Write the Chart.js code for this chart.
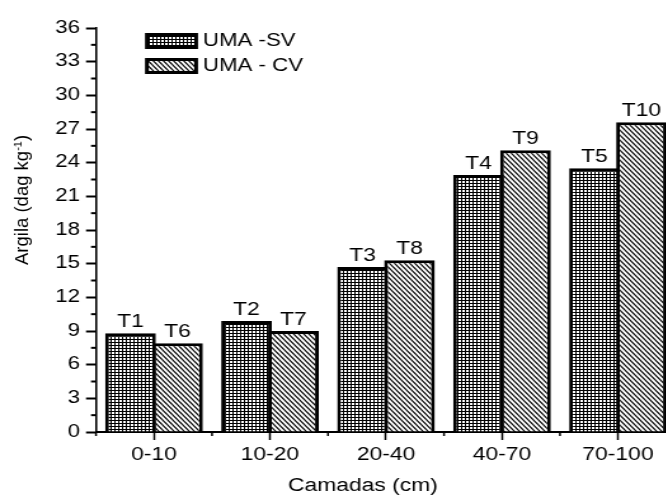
<!DOCTYPE html>
<html>
<head>
<meta charset="utf-8">
<script src="https://cdn.jsdelivr.net/npm/chart.js@4/dist/chart.umd.min.js"></script>
<style>
  html, body { margin: 0; padding: 0; background: #fff; overflow: hidden; }
  #wrap { width: 666px; height: 495px; overflow: hidden; }
  #argila { display: block; transform-origin: 0 0; }
</style>
</head>
<body>
<div id="wrap"><canvas id="argila"></canvas></div>
<script>
const camadas = ['0-10', '10-20', '20-40', '40-70', '70-100']
const semVegetacao = [8.8, 9.9, 14.7, 22.9, 23.5]
const comVegetacao = [7.9, 9.0, 15.3, 25.1, 27.6]
const tratamentosSV = ['T1', 'T2', 'T3', 'T4', 'T5']
const tratamentosCV = ['T6', 'T7', 'T8', 'T9', 'T10']
const seriesNomes = ['UMA -SV', 'UMA - CV']
const eixoY = { min: 0, max: 36, passo: 3, menor: 1.5 }
const tituloY = ['Argila (dag kg', '-1', ')']
const tituloX = 'Camadas (cm)'

// the figure is drawn narrow and stretched sideways (wide lettering)
const S = 1.27
const W = Math.ceil(680 / S), H = 495
const FONT = '"Liberation Sans", Arial, sans-serif'

const canvas = document.getElementById('argila')
canvas.width = W
canvas.height = H
canvas.style.transform = `scaleX(${S})`

function gridPattern() {
  const c = document.createElement('canvas')
  c.width = 3
  c.height = 3
  const g = c.getContext('2d')
  g.fillStyle = '#fff'
  g.fillRect(0, 0, 3, 3)
  g.fillStyle = '#000'
  g.fillRect(0, 0, 3, 1)
  g.fillRect(0, 0, 1, 3)
  return g.createPattern(c, 'repeat')
}

function hatchPattern() {
  const w = 4, h = 5
  const c = document.createElement('canvas')
  c.width = w
  c.height = h
  const g = c.getContext('2d')
  g.fillStyle = '#fff'
  g.fillRect(0, 0, w, h)
  g.strokeStyle = '#000'
  g.lineWidth = 1.1
  for (let k = -1; k <= 1; k++) {
    g.beginPath()
    g.moveTo(k * w - w, -h)
    g.lineTo(k * w + 2 * w, 2 * h)
    g.stroke()
  }
  return g.createPattern(c, 'repeat')
}

const fillSV = gridPattern()
const fillCV = hatchPattern()

const extras = {
  id: 'extras',
  afterDatasetsDraw(chart) {
    const { ctx, chartArea, scales: { x, y } } = chart
    ctx.save()
    ctx.fillStyle = '#000'
    ctx.strokeStyle = '#000'

    // treatment tags above bars
    const tags = [tratamentosSV, tratamentosCV]
    ctx.font = `18px ${FONT}`
    ctx.textAlign = 'center'
    ctx.textBaseline = 'alphabetic'
    tags.forEach((list, i) => {
      chart.getDatasetMeta(i).data.forEach((bar, j) => {
        ctx.fillText(list[j], bar.x, bar.y - 6)
      })
    })

    // minor ticks
    ctx.lineWidth = 2
    for (let v = eixoY.menor; v < eixoY.max; v += eixoY.passo) {
      const py = y.getPixelForValue(v)
      ctx.beginPath()
      ctx.moveTo(chartArea.left - 5 / S, py)
      ctx.lineTo(chartArea.left, py)
      ctx.stroke()
    }
    ctx.lineWidth = 1.5
    for (let i = 0; i <= camadas.length; i++) {
      const px = x.getPixelForValue(i - 0.5)
      ctx.beginPath()
      ctx.moveTo(px, chartArea.bottom)
      ctx.lineTo(px, chartArea.bottom + 4)
      ctx.stroke()
    }

    // legend
    const boxes = [[145, 33], [145, 58]]
    const fills = [fillSV, fillCV]
    ctx.font = `17.5px ${FONT}`
    ctx.textAlign = 'left'
    ctx.textBaseline = 'middle'
    boxes.forEach(([bx, by], i) => {
      const lx = bx / S, bw = 53 / S, bh = 16
      ctx.fillStyle = '#000'
      ctx.fillRect(lx, by, bw, bh)
      ctx.fillStyle = fills[i]
      ctx.fillRect(lx + 3, by + 3, bw - 6, bh - 6)
      ctx.fillStyle = '#000'
      ctx.fillText(seriesNomes[i], 203 / S, by + 8.5)
    })

    // y title, upright proportions
    ctx.save()
    ctx.translate(28.5 / S, 265)
    ctx.scale(1 / S, 1)
    ctx.rotate(-Math.PI / 2)
    ctx.textAlign = 'left'
    ctx.textBaseline = 'alphabetic'
    ctx.font = `18.5px ${FONT}`
    let t = 0
    ctx.fillText(tituloY[0], t, 0)
    t += ctx.measureText(tituloY[0]).width
    ctx.font = `11px ${FONT}`
    ctx.fillText(tituloY[1], t, -7)
    t += ctx.measureText(tituloY[1]).width
    ctx.font = `18.5px ${FONT}`
    ctx.fillText(tituloY[2], t, 0)
    ctx.restore()

    ctx.font = `18px ${FONT}`
    ctx.textAlign = 'center'
    ctx.textBaseline = 'alphabetic'
    ctx.fillText(tituloX, 363 / S, 491)
    ctx.restore()
  }
}

const myChart = new Chart(canvas.getContext('2d'), {
  type: 'bar',
  data: {
    labels: camadas,
    datasets: [{
      label: seriesNomes[0],
      data: semVegetacao,
      backgroundColor: fillSV,
      borderColor: '#000',
      borderWidth: 3,
      inflateAmount: 0,
      categoryPercentage: 0.81,
      barPercentage: 1.08
    }, {
      label: seriesNomes[1],
      data: comVegetacao,
      backgroundColor: fillCV,
      borderColor: '#000',
      borderWidth: 3,
      inflateAmount: 0,
      categoryPercentage: 0.81,
      barPercentage: 1.08
    }]
  },
  options: {
    responsive: false,
    animation: false,
    devicePixelRatio: 1,
    layout: {
      padding: { left: 0, top: 28, right: W - 676 / S, bottom: 0 }
    },
    plugins: {
      legend: { display: false },
      tooltip: { enabled: false }
    },
    scales: {
      x: {
        afterFit: scale => { scale.height = H - 432 },
        grid: {
          offset: false,
          drawOnChartArea: false,
          color: '#000',
          tickLength: 8,
          tickWidth: 1.5
        },
        border: { color: '#000', width: 2 },
        ticks: {
          color: '#000',
          font: { family: FONT, size: 18 },
          padding: 4,
          maxRotation: 0
        }
      },
      y: {
        min: eixoY.min,
        max: eixoY.max,
        afterFit: scale => { scale.width = 96 / S },
        grid: {
          drawOnChartArea: false,
          color: '#000',
          tickLength: 10 / S,
          tickWidth: 2
        },
        border: { color: '#000', width: 2 / S },
        ticks: {
          stepSize: eixoY.passo,
          color: '#000',
          font: { family: FONT, size: 17.5 },
          padding: 6 / S
        }
      }
    }
  },
  plugins: [extras]
})
</script>
</body>
</html>
